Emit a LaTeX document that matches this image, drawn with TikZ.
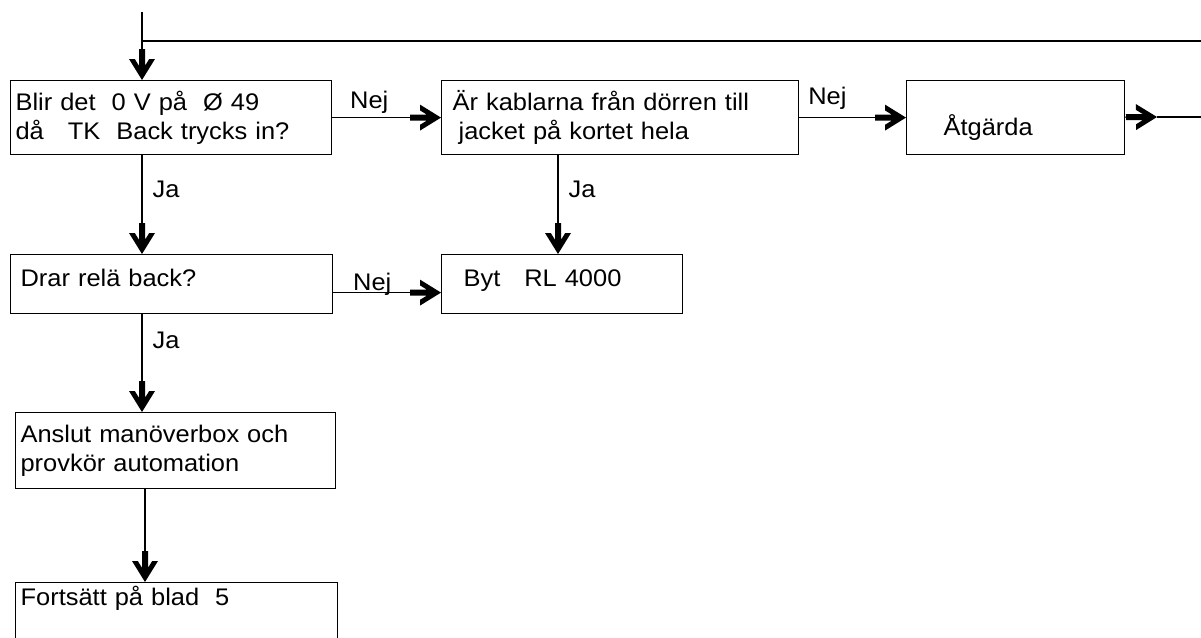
\documentclass[tikz,border=0pt]{standalone}
\usepackage{fontspec}
\setmainfont{Liberation Sans}[FakeStretch=1.06]
\usetikzlibrary{arrows.meta}

% heavy chevron with a short thick stem, as on the scanned chart
\pgfdeclarearrow{
	name = Chev,
	setup code = {
		\pgfarrowssettipend{0pt}
		\pgfarrowssetlineend{-12pt}
		\pgfarrowssetbackend{-15.5pt}
	},
	drawing code = {
		\pgfpathmoveto{\pgfqpoint{0pt}{0pt}}
		\pgfpathlineto{\pgfqpoint{-10.5pt}{6.5pt}}
		\pgfpathlineto{\pgfqpoint{-10.5pt}{3.6pt}}
		\pgfpathlineto{\pgfqpoint{-7.1pt}{1.5pt}}
		\pgfpathlineto{\pgfqpoint{-15.5pt}{1.5pt}}
		\pgfpathlineto{\pgfqpoint{-15.5pt}{-1.5pt}}
		\pgfpathlineto{\pgfqpoint{-7.1pt}{-1.5pt}}
		\pgfpathlineto{\pgfqpoint{-10.5pt}{-3.6pt}}
		\pgfpathlineto{\pgfqpoint{-10.5pt}{-6.5pt}}
		\pgfpathclose
		\pgfusepathqfill
	}
}

\begin{document}
\begin{tikzpicture} [
	x=0.5pt, y=-0.5pt, % one unit is one pixel of the scan, y runs downwards
	line width=0.6pt,
	>=Chev, % the heavy arrow heads
	font=\fontsize{12pt}{14.5pt}\selectfont,
	box/.style={draw, anchor=north west, align=left, inner xsep=2.5pt, inner ysep=3pt}, % every box of the chart
	nej/.style={anchor=base west, inner sep=0pt},
	ja/.style={anchor=base west, inner sep=0pt, xshift=5pt},
	]
	\useasboundingbox (0,0) rectangle (1201,638);

	\node[box, minimum width=160.5pt, minimum height=37pt, text width=155.5pt] (volt) at (10,80)
		{Blir det\ \ 0 V på\ \ Ø 49\\då\ \ \ TK\ \ Back trycks in?};
	\node[box, minimum width=178.5pt, minimum height=37pt, text width=173.5pt] (kabel) at (441,80)
		{\hspace*{3pt}Är kablarna från dörren till\\\hspace*{6pt}jacket på kortet hela};
	\node[box, minimum width=109pt, minimum height=37pt, text width=104pt, text height=18pt, text depth=0pt] (fix) at (906,80)
		{\hspace*{16pt}Åtgärda};
	\node[box, minimum width=161pt, minimum height=29.5pt, text width=156pt, text height=8pt, text depth=5.5pt] (rele) at (10,254)
		{\hspace*{2.5pt}Drar relä back?};
	\node[box, minimum width=120.5pt, minimum height=29.5pt, text width=115.5pt, text height=8pt, text depth=5.5pt] (byt) at (441,254)
		{\hspace*{8.5pt}Byt\ \ \ RL 4000};
	\node[box, minimum width=160pt, minimum height=38pt, text width=155pt] (prov) at (15,412)
		{Anslut manöverbox och\\provkör automation};
	\node[box, minimum width=161pt, minimum height=56pt, text width=156pt, text height=8pt, text depth=41pt] (blad) at (15,582)
		{Fortsätt på blad\ \ 5};

	\coordinate (in) at (142,12);
	\coordinate (back) at (1201,41);
	\coordinate (tip) at (1157,117);
	\coordinate (out) at (1201,117);

	\draw (back) -- (back -| in);
	\draw
		(in) edge[->] (in |- volt.north)

		(volt) edge[->] node[nej, pos=.16, yshift=4.5pt] {Nej} (kabel)
		(kabel) edge[->] node[nej, pos=.08, yshift=6.5pt] {Nej} (fix)
		(fix) edge[->] (tip)
		(tip) edge (out)

		([xshift=66pt]volt.south west) edge[->] node[ja, pos=.43] {Ja} ([xshift=66pt]rele.north west)
		([xshift=58.5pt]kabel.south west) edge[->] node[ja, pos=.43] {Ja} ([xshift=58.5pt]byt.north west)

		([yshift=-4.25pt]rele.east) edge[->] node[nej, pos=.18, yshift=1pt] {Nej} ([yshift=-4.25pt]byt.west)
		([xshift=66pt]rele.south west) edge[->] node[ja, pos=.35] {Ja} ([xshift=66pt]rele.south west |- prov.north)

		([xshift=65pt]prov.south west) edge[->] ([xshift=65pt]blad.north west)
	;
\end{tikzpicture}
\end{document}
